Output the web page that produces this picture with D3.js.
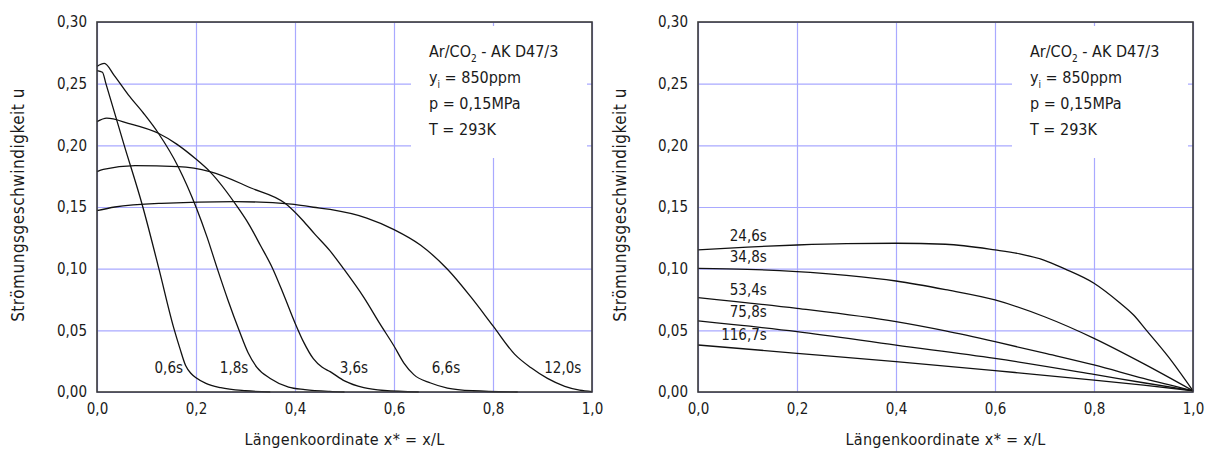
<!DOCTYPE html>
<html>
<head>
<meta charset="utf-8">
<script src="https://cdn.jsdelivr.net/npm/d3@7"></script>
<style>
  body { margin: 0; background: #fff; }
  text { font-family: "DejaVu Sans Condensed", "Liberation Sans Narrow", sans-serif; fill: #1a1a1a; }
  .grid line { stroke: #a9a9ff; stroke-width: 1.2; }
  .grid .domain { display: none; }
  .lbl .domain { display: none; }
  .lbl text { font-size: 15px; font-family: "DejaVu Sans Condensed", sans-serif; }
</style>
</head>
<body>
<svg id="chart" width="1210" height="454"></svg>
<script>
// axis ticks
var xTicks = [0, 0.2, 0.4, 0.6, 0.8, 1.0];
var yTicks = [0, 0.05, 0.10, 0.15, 0.20, 0.25, 0.30];

// left panel: u(x*) at early times
var leftNames = ["0,6s", "1,8s", "3,6s", "6,6s", "12,0s"];
var u06 = [[0,0.2606],[0.011,0.2593],[0.018,0.250],[0.055,0.200],[0.0926,0.150],[0.125,0.100],[0.155,0.052],[0.167,0.036],[0.179,0.0215],[0.19,0.015],[0.20,0.0115],[0.22,0.007],[0.25,0.0035],[0.30,0.001],[0.35,0]];
var u18 = [[0,0.264],[0.0148,0.2664],[0.035,0.2565],[0.0633,0.2409],[0.094,0.226],[0.124,0.2098],[0.164,0.1827],[0.201,0.149],[0.222,0.126],[0.243,0.100],[0.265,0.074],[0.287,0.050],[0.305,0.032],[0.323,0.020],[0.35,0.011],[0.387,0.004],[0.42,0.002],[0.47,0.0005],[0.5,0]];
var u36 = [[0,0.2192],[0.0196,0.222],[0.063,0.2179],[0.124,0.2098],[0.161,0.201],[0.198,0.1895],[0.228,0.1787],[0.2855,0.149],[0.306,0.1365],[0.33,0.119],[0.355,0.100],[0.378,0.078],[0.40,0.056],[0.418,0.040],[0.437,0.027],[0.455,0.020],[0.471,0.0165],[0.50,0.009],[0.539,0.0035],[0.58,0.0012],[0.65,0]];
var u66 = [[0,0.1787],[0.0128,0.1805],[0.0768,0.1835],[0.164,0.1827],[0.228,0.1787],[0.3125,0.1652],[0.38,0.153],[0.415,0.1395],[0.44,0.128],[0.47,0.1148],[0.498,0.100],[0.539,0.0767],[0.572,0.055],[0.60,0.0373],[0.62,0.0235],[0.64,0.0141],[0.674,0.0073],[0.708,0.0032],[0.76,0.001],[0.85,0]];
var u120 = [[0,0.147],[0.036,0.150],[0.13,0.153],[0.279,0.1543],[0.393,0.1524],[0.437,0.1498],[0.471,0.148],[0.545,0.141],[0.60,0.1317],[0.654,0.119],[0.708,0.0995],[0.756,0.0767],[0.80,0.0536],[0.844,0.0305],[0.877,0.0196],[0.91,0.011],[0.945,0.0046],[0.975,0.0015],[1.0,0.0003]];
var leftLabelAt = [[0.145,0.0154],[0.277,0.0154],[0.519,0.0154],[0.705,0.0154],[0.941,0.0154]];

// right panel: later times
var rightNames = ["24,6s", "34,8s", "53,4s", "75,8s", "116,7s"];
var u246 = [[0,0.1152],[0.1,0.1175],[0.2,0.1192],[0.3,0.1203],[0.4,0.1206],[0.5,0.1198],[0.6,0.1152],[0.65,0.112],[0.7,0.1068],[0.74,0.100],[0.8,0.0882],[0.85,0.073],[0.88,0.0624],[0.906,0.050],[0.95,0.0287],[1.0,0.001]];
var u348 = [[0,0.1003],[0.1,0.0995],[0.2,0.0976],[0.3,0.0945],[0.4,0.090],[0.5,0.083],[0.6,0.0746],[0.7,0.061],[0.8,0.0435],[0.9,0.023],[1.0,0.001]];
var u534 = [[0,0.0765],[0.2,0.0678],[0.4,0.057],[0.5,0.0495],[0.6,0.0408],[0.7,0.0315],[0.8,0.0219],[0.9,0.011],[1.0,0.001]];
var u758 = [[0,0.0576],[0.2,0.0489],[0.4,0.038],[0.6,0.0273],[0.8,0.0143],[0.9,0.0075],[1.0,0.001]];
var u1167 = [[0,0.0381],[0.2,0.0314],[0.4,0.0246],[0.6,0.0173],[0.8,0.0097],[0.9,0.0055],[1.0,0.001]];
var rightLabelAt = [[0.139,0.1225],[0.139,0.1055],[0.139,0.0785],[0.139,0.0610],[0.139,0.0420]];

var plotW = 495, plotH = 370, plotTop = 22;
var svg = d3.select("#chart");
var loc = d3.formatLocale({decimal: ",", thousands: ".", grouping: [3], currency: ["", "€"]});
var xFmt = loc.format(".1f"), yFmt = loc.format(".2f");

var drawPanel = function(ox, titleX, curves, names, labelAt, anchor) {
  var g = svg.append("g").attr("transform", "translate(" + ox + "," + plotTop + ")");
  var x = d3.scaleLinear().domain([0, 1]).range([0, plotW]);
  var y = d3.scaleLinear().domain([0, 0.30]).range([plotH, 0]);

  // blue grid
  g.append("g").attr("class", "grid")
    .attr("transform", "translate(0," + plotH + ")")
    .call(d3.axisBottom(x).tickValues(xTicks).tickSize(-plotH).tickFormat(""));
  g.append("g").attr("class", "grid")
    .call(d3.axisLeft(y).tickValues(yTicks).tickSize(-plotW).tickFormat(""));

  // white box behind the parameter text
  g.append("rect").attr("x", 314).attr("y", 4).attr("width", 176).attr("height", 132).attr("fill", "#fff");

  var info = g.append("g").attr("transform", "translate(332,0)").style("font-size", "16px");
  var t1 = info.append("text").attr("y", 35);
  t1.append("tspan").text("Ar/CO");
  t1.append("tspan").attr("dy", 5).style("font-size", "10px").text("2");
  t1.append("tspan").attr("dy", -5).text(" - AK D47/3");
  var t2 = info.append("text").attr("y", 61);
  t2.append("tspan").text("y");
  t2.append("tspan").attr("dy", 5).style("font-size", "10px").text("i");
  t2.append("tspan").attr("dy", -5).text(" = 850ppm");
  info.append("text").attr("y", 87).text("p = 0,15MPa");
  info.append("text").attr("y", 113).text("T = 293K");

  var line = d3.line()
    .x(function(d) { return x(d[0]); })
    .y(function(d) { return y(d[1]); })
    .curve(d3.curveMonotoneX);

  g.selectAll("path.curve")
    .data(curves)
    .enter()
    .append("path")
    .attr("class", "curve")
    .attr("d", line)
    .attr("fill", "none")
    .attr("stroke", "#111")
    .attr("stroke-width", 1.3);

  g.selectAll("text.tlab")
    .data(names)
    .enter()
    .append("text")
    .attr("class", "tlab")
    .attr("x", function(d, i) { return x(labelAt[i][0]); })
    .attr("y", function(d, i) { return y(labelAt[i][1]); })
    .attr("text-anchor", anchor)
    .style("font-size", "15px")
    .text(function(d) { return d; });

  // frame
  g.append("rect").attr("width", plotW).attr("height", plotH)
    .attr("fill", "none").attr("stroke", "#3a3a3a").attr("stroke-width", 1.6);

  // tick labels
  g.append("g").attr("class", "lbl")
    .attr("transform", "translate(0," + plotH + ")")
    .call(d3.axisBottom(x).tickValues(xTicks).tickSize(0).tickPadding(11).tickFormat(xFmt));
  g.append("g").attr("class", "lbl")
    .call(d3.axisLeft(y).tickValues(yTicks).tickSize(0).tickPadding(10).tickFormat(yFmt));
  g.selectAll(".lbl text").attr("fill", "#1a1a1a");

  // axis titles
  g.append("text")
    .attr("x", plotW / 2).attr("y", 423)
    .attr("text-anchor", "middle")
    .style("font-size", "16px").style("letter-spacing", "0.3px")
    .text("Längenkoordinate x* = x/L");
  g.append("text")
    .attr("transform", "translate(" + (titleX - ox) + "," + (plotH / 2 - 2) + ") rotate(-90)")
    .attr("text-anchor", "middle")
    .style("font-size", "17px").style("letter-spacing", "0.5px")
    .text("Strömungsgeschwindigkeit u");
};

drawPanel(97, 24, [u06, u18, u36, u66, u120], leftNames, leftLabelAt, "middle");
drawPanel(698, 626, [u246, u348, u534, u758, u1167], rightNames, rightLabelAt, "end");
</script>
</body>
</html>
